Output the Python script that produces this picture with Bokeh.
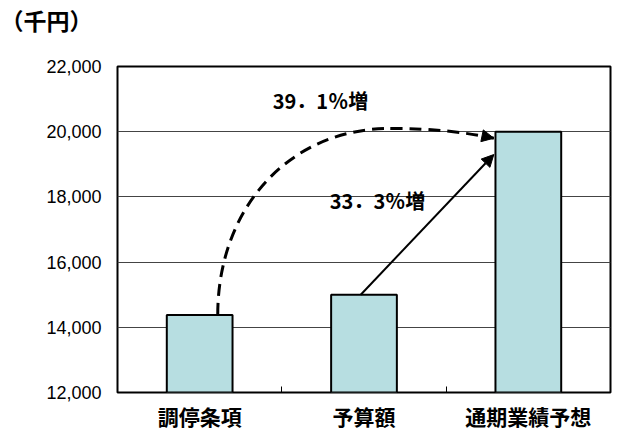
from bokeh.plotting import figure
from bokeh.models import (Range1d, FixedTicker, NumeralTickFormatter, Arrow,
                          NormalHead, Title, ColumnDataSource)
from bokeh.core.properties import value
from bokeh.embed import file_html
from bokeh.resources import INLINE

unit_label = "（千円）"
categories = ["調停条項", "予算額", "通期業績予想"]
amounts = [14378, 15000, 20000]
y_ticks = [12000, 14000, 16000, 18000, 20000, 22000]

JP = "Noto Sans CJK JP"
xs = [i + 0.5 for i in range(len(categories))]
bar_w = 0.4

p = figure(frame_width=493, frame_height=326,
           x_range=Range1d(0, len(categories)),
           y_range=Range1d(y_ticks[0], y_ticks[-1]),
           output_backend="svg", toolbar_location=None,
           min_border_left=117, min_border_right=4,
           min_border_top=65, min_border_bottom=30)
p.background_fill_color = "white"
p.border_fill_color = "white"
p.outline_line_color = "black"
p.outline_line_width = 2

p.add_layout(Title(text=unit_label, text_font=JP, text_font_style="bold",
                   text_font_size="23px", text_color="black", align="left",
                   offset=-117, standoff=0,
                   padding=dict(left=0, right=0, top=0, bottom=30)), "above")

src = ColumnDataSource(dict(x=xs, top=amounts, cat=categories))
p.vbar(x="x", top="top", bottom=y_ticks[0], width=bar_w, source=src,
       fill_color="#b7dee1", line_color="black", line_width=2)

# x axis
p.xaxis.ticker = FixedTicker(ticks=xs, minor_ticks=list(range(1, len(categories))))
p.xaxis.major_label_overrides = {x: c for x, c in zip(xs, categories)}
p.xaxis.major_tick_line_color = None
p.xaxis.major_tick_out = 0
p.xaxis.major_tick_in = 0
p.xaxis.minor_tick_line_color = "black"
p.xaxis.minor_tick_in = 6
p.xaxis.minor_tick_out = 0
p.xaxis.minor_tick_line_width = 1
p.xaxis.axis_line_color = None
p.xaxis.major_label_text_font = JP
p.xaxis.major_label_text_font_style = "bold"
p.xaxis.major_label_text_font_size = "21px"
p.xaxis.major_label_text_color = "black"
p.xaxis.major_label_standoff = 8
p.xgrid.visible = False

# y axis
p.yaxis.ticker = FixedTicker(ticks=y_ticks)
p.yaxis.formatter = NumeralTickFormatter(format="0,0")
p.yaxis.major_tick_line_color = None
p.yaxis.minor_tick_line_color = None
p.yaxis.major_tick_out = 0
p.yaxis.axis_line_color = None
p.yaxis.major_label_text_font = "Liberation Sans"
p.yaxis.major_label_text_font_size = "18px"
p.yaxis.major_label_text_color = "black"
p.yaxis.major_label_standoff = 16
p.ygrid.grid_line_color = "#444444"
p.ygrid.grid_line_width = 1

# growth labels computed from the data
def pct_text(a, b):
    s = f"{(b / a - 1) * 100:.1f}"
    return s.replace(".", "．") + "％増"

pct_labels = [pct_text(amounts[0], amounts[2]), pct_text(amounts[1], amounts[2])]
p.text(x=[1.235, 1.582], y=[20957, 17890], text=pct_labels,
       text_font=value(JP), text_font_style="bold", text_font_size="20px",
       text_align="center", text_baseline="middle", text_color="black")

# dashed curved arrow from bar 1 to bar 3
x_start = xs[0] + 0.11
x_end = xs[2] - bar_w / 2 - 0.01
peak_x, peak_y = 1.66, amounts[2] + 100
end_y = amounts[2] - 200
k = 0.58
p.bezier(x0=[x_start, peak_x], y0=[amounts[0], peak_y],
         x1=[peak_x, x_end], y1=[peak_y, end_y],
         cx0=[x_start, 1.9], cy0=[amounts[0] + k * (peak_y - amounts[0]), peak_y],
         cx1=[peak_x - k * (peak_x - x_start), 2.1], cy1=[peak_y, amounts[2]],
         line_color="black", line_width=3, line_dash="12 7")
p.add_layout(Arrow(end=NormalHead(size=12, fill_color="black", line_color="black"),
                   x_start=2.1, y_start=amounts[2], x_end=x_end, y_end=end_y,
                   line_alpha=0))

# solid arrow from bar 2 to bar 3
p.add_layout(Arrow(end=NormalHead(size=12, fill_color="black", line_color="black"),
                   x_start=xs[1] - 0.02, y_start=amounts[1],
                   x_end=x_end, y_end=amounts[2] - 700,
                   line_color="black", line_width=2))

open("out.html", "w").write(file_html(p, INLINE))
